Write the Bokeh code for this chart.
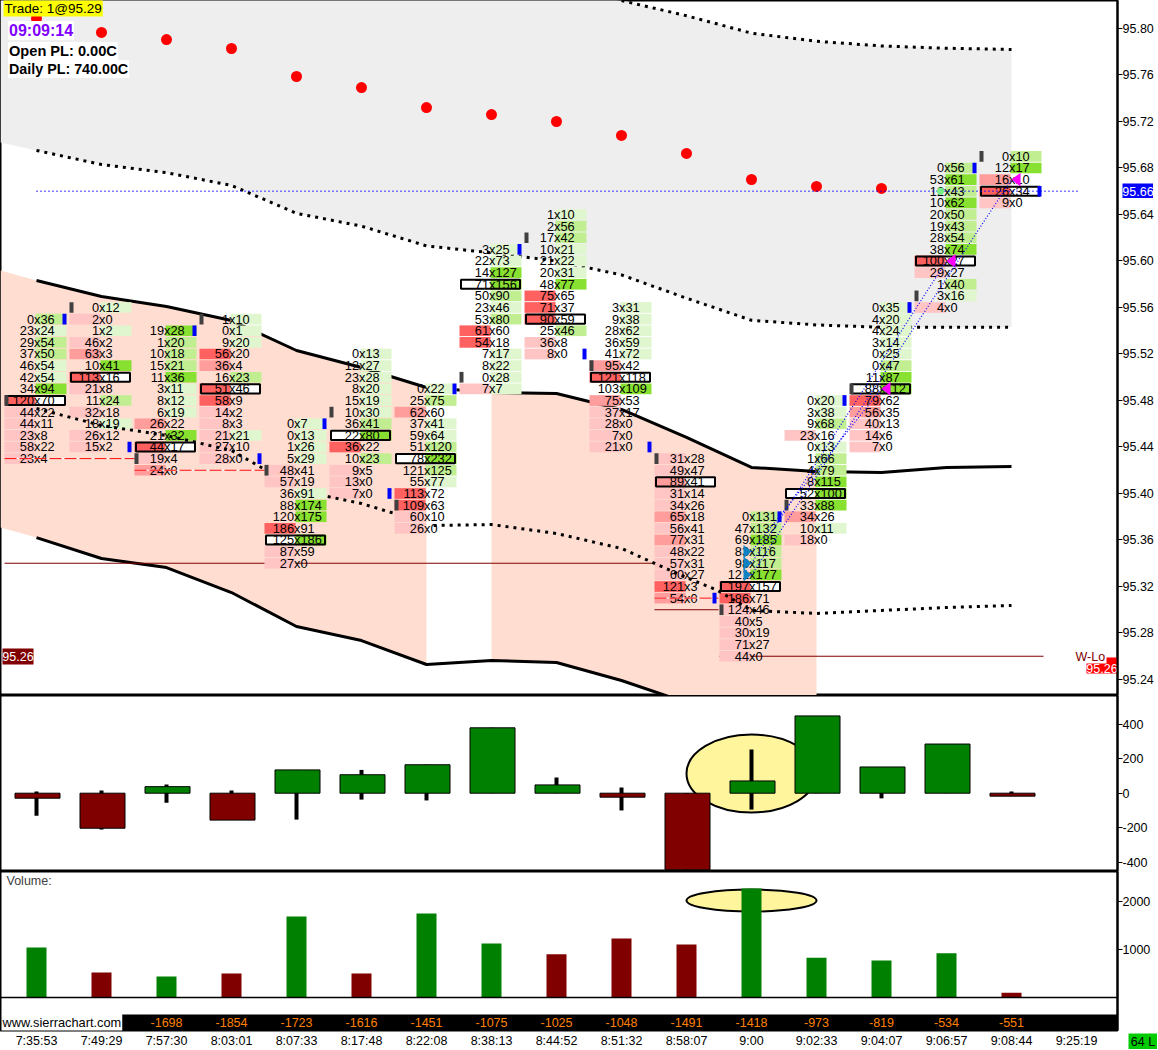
from bokeh.plotting import figure
from bokeh.layouts import column
from bokeh.models import Range1d, FixedTicker, NumeralTickFormatter, Label, Span
from bokeh.core.properties import value
from bokeh.embed import file_html
from bokeh.resources import INLINE

# ---------- data ----------
time_labels = ["7:35:53","7:49:29","7:57:30","8:03:01","8:07:33","8:17:48","8:22:08","8:38:13","8:44:52",
               "8:51:32","8:58:07","9:00","9:02:33","9:04:07","9:06:57","9:08:44","9:25:19"]
top_price = [95.55,95.56,95.54,95.55,95.46,95.52,95.49,95.61,95.64,95.56,95.43,95.38,95.48,95.56,95.68,95.69]
bid_values = [
 [0,23,29,37,46,42,34,120,44,44,23,58,23],
 [0,2,1,46,63,10,113,21,11,32,18,26,15],
 [19,1,10,15,11,3,8,6,26,21,44,19,24],
 [1,0,9,56,36,16,51,58,14,8,21,27,28],
 [0,0,1,5,48,57,36,88,120,186,125,87,27],
 [0,12,23,8,15,10,36,22,36,10,9,13,7],
 [0,25,62,37,59,51,78,121,55,113,109,60,26],
 [3,22,14,71,50,23,53,61,54,7,8,0,7],
 [1,2,17,10,21,20,48,75,71,90,25,36,8],
 [3,9,28,36,41,95,121,103,75,37,28,7,21],
 [31,49,89,31,34,65,56,77,48,57,60,121,54],
 [0,47,69,83,98,121,197,186,124,40,30,71,44],
 [0,3,9,23,0,1,4,8,52,33,34,10,18],
 [0,4,4,3,0,0,11,88,79,56,40,14,7],
 [0,53,12,10,20,19,28,38,100,29,1,3,4],
 [0,12,16,26,9],
]
ask_values = [
 [36,24,54,50,54,54,94,70,22,11,8,22,4],
 [12,0,2,2,3,41,16,8,24,18,19,12,2],
 [28,20,18,21,36,11,12,19,22,32,17,4,0],
 [10,1,20,20,4,23,46,9,2,3,21,10,0],
 [7,13,26,29,41,19,91,174,175,91,186,59,0],
 [13,27,28,20,19,30,41,80,22,23,5,0,0],
 [22,75,60,41,64,120,232,125,77,72,63,10,0],
 [25,73,127,156,90,46,80,60,18,17,22,28,7],
 [10,56,42,21,22,31,77,65,37,59,46,8,0],
 [31,38,62,59,72,42,118,109,53,17,0,0,0],
 [28,47,41,14,26,18,41,31,22,31,27,3,0],
 [131,132,185,116,117,177,157,71,46,5,19,27,0],
 [20,38,68,16,13,66,79,115,100,88,26,11,0],
 [35,20,24,14,25,47,87,112,62,35,13,6,0],
 [56,61,43,62,50,43,54,74,27,27,40,16,0],
 [10,17,10,34,0],
]
# shade per row: positive = ask cell coloured, negative = bid cell coloured, a tie colours both
shade_levels = [
 [2,1,2,2,1,1,3,-3,-1,-1,-1,-1,-1],
 [1,-1,1,-1,-2,3,-3,-1,2,-1,1,-1,-1],
 [3,2,2,2,3,1,1,1,-2,3,-3,-1,-2],
 [1,1,1,-3,-2,2,-3,-3,-1,-1,-1,-1,-1],
 [1,1,1,1,-1,-1,1,3,3,-3,3,-1,-1],
 [1,1,1,1,1,1,2,3,-3,2,-1,-1,-1],
 [1,2,-2,1,1,2,3,2,1,-3,-3,-1,-1],
 [1,1,3,3,2,1,2,-3,-3,1,1,1,-1],
 [1,2,2,1,1,1,3,-3,-3,-3,2,-1,-1],
 [1,1,1,1,1,-2,-3,3,-2,-1,-1,-1,-1],
 [-1,-1,-2,-1,-1,-2,-1,-2,-1,-1,-1,-3,-2],
 [2,2,3,2,2,3,-3,-3,-1,-1,-1,-1,-1],
 [1,1,2,-1,1,2,2,3,3,3,-2,1,-1],
 [1,1,1,1,1,2,3,3,-3,-2,-1,-1,-1],
 [2,3,2,3,2,2,2,3,-3,-1,2,1,-1],
 [2,3,-2,-3,-1],
]
poc_row = [7,6,10,6,10,7,6,3,9,6,2,6,8,7,8,3]
blue_mark_price = [95.55,95.44,95.54,95.43,95.46,95.40,95.49,95.61,95.52,95.44,95.31,95.38,95.48,95.56,95.68,95.66]
gray_mark_price = [95.48,95.56,95.43,95.55,95.42,95.47,95.39,95.50,95.62,95.51,95.43,95.30,95.39,95.49,95.57,95.69]

red_dot_price = [95.8086,95.7966,95.7905,95.7828,95.7587,95.7492,95.7320,95.7260,95.7200,95.7080,95.6925,95.6701,95.6641,95.6624]
band_top_price = [95.5832,95.5695,95.5609,95.5488,95.5230,95.5084,95.4912,95.4869,95.4860,95.4723,95.4482,95.4224,95.4189,95.4181,95.4224,95.4232]
band_low_price = [95.3621,95.3441,95.3363,95.3148,95.2856,95.2735,95.2529,95.2563,95.2546,95.2391,95.2202,95.2013,95.1961]
band_left_top, band_left_low = 95.5918, 95.3707
gray_low_price = [95.6951,95.683,95.676,95.665,95.641,95.630,95.613,95.607,95.600,95.588,95.568,95.549,95.545,95.543,95.543,95.543]
gray_left_low = 95.702
gray_high_price = [95.90,95.89,95.88,95.87,95.86,95.85,95.85,95.84,95.83,95.824,95.811,95.796,95.789,95.785,95.783,95.782]
mid_a_x, mid_a_price = [0,1,2,3,3.54], [95.4731,95.4585,95.4499,95.4370,95.4198]
mid_b_x, mid_b_price = [4.48,5,5.51], [95.3974,95.3914,95.3828]
mid_c_x = [6.11,7,8,9,10,10.48,11,12,13,14,15]
mid_c_price = [95.3725,95.3733,95.3656,95.3527,95.3277,95.3166,95.2994,95.2968,95.2994,95.3019,95.3037]
entry_price = [95.35,95.34,95.33]
exit_bar = [13,14,15]
exit_price = [95.49,95.60,95.67]

delta_close = [-29,-203,38,-156,135,107,165,379,48,-23,-444,71,448,152,285,-17]
delta_high = [10,15,50,15,135,135,165,379,91,33,0,253,448,152,285,10]
delta_low = [-130,-210,-55,-156,-153,-37,-42,0,0,-100,-444,-95,0,-30,0,-17]
volume = [1040,520,440,500,1690,500,1750,1125,900,1230,1105,2270,830,770,920,100]
volume_up = [1,0,1,0,1,0,1,1,0,0,0,1,1,1,1,0]
cum_delta = [-1698,-1854,-1723,-1616,-1451,-1075,-1025,-1048,-1491,-1418,-973,-819,-534,-551]

# ---------- layout helpers ----------
SANS = "Liberation Sans"
FONT = value(SANS)
CELL_SIZE = "12.8px"
AXIS_SIZE = "12.5px"
GREEN, RED = "#008000", "#800000"
ASK_COL = {1:"#E0F6CE",2:"#C2EE92",3:"#88E030"}
BID_COL = {1:"#FFC4C4",2:"#FF9C9C",3:"#FF6060"}
PX = 1/65
def xpx(px): return (px-36)/65
def pr(y): return 95.80-(y-28)*0.00086022
def dl(y): return (792.7-y)/0.1725
def vl(y): return (997-y)/0.048
XR = (xpx(0), xpx(1117))

def make_fig(h, yr, fticks, bottom=0):
    p = figure(width=1158, height=h, x_range=Range1d(*XR), y_range=Range1d(yr[1], yr[0]), y_axis_location="right",
               toolbar_location=None, output_backend="svg", min_border_left=0, min_border_top=0,
               min_border_right=41, min_border_bottom=bottom, background_fill_color="white",
               outline_line_color="black", outline_line_width=2)
    p.grid.visible = False
    a = p.yaxis[0]
    a.ticker = FixedTicker(ticks=fticks)
    a.axis_line_color = "black"; a.axis_line_width = 2
    a.major_tick_in = 0; a.major_tick_out = 5; a.major_tick_line_color = "black"
    a.minor_tick_line_color = None
    a.major_label_standoff = 0
    a.major_label_text_font = SANS; a.major_label_text_font_size = AXIS_SIZE
    a.major_label_text_color = "black"
    return p

def lab(p, x, y, text, color="black", bg=None, size=AXIS_SIZE, style="normal", pad=0):
    p.add_layout(Label(x=x, y=y, text=text, text_color=color, background_fill_color=bg, text_font=SANS,
                       text_font_size=size, text_font_style=style, text_baseline="middle", text_align="left",
                       padding=pad))

def boxed(p, x0, x1, y0, y1, text, color, bg):
    p.quad(left=[x0], right=[x1], top=[y0], bottom=[y1], fill_color=bg, line_color=None)
    p.text([(x0+x1)/2], [(y0+y1)/2], text=[text], text_align="center", text_baseline="middle", text_color=color,
           text_font=FONT, text_font_size=AXIS_SIZE)

def tag(left, top, w, h, text, color, bg):
    p = figure(width=w, height=h, x_range=Range1d(0, 1), y_range=Range1d(0, 1), toolbar_location=None,
               output_backend="svg", x_axis_location=None, y_axis_location=None, min_border=0,
               background_fill_color=bg, border_fill_color=bg, outline_line_color=None,
               styles={"position": "absolute", "left": f"{left}px", "top": f"{top}px"})
    p.grid.visible = False
    p.text([0.5], [0.5], text=[text], text_align="center", text_baseline="middle", text_color=color,
           text_font=FONT, text_font_size=AXIS_SIZE)
    return p

# ---------- price panel ----------
f1 = make_fig(695, (pr(0), pr(695)), [95.24+0.04*i for i in range(15)])
f1.xaxis.visible = False
f1.yaxis[0].formatter = NumeralTickFormatter(format="0.00")

idx = list(range(16))
f1.varea(x=[XR[0]]+idx, y1=[gray_left_low]+gray_low_price, y2=[95.95]+gray_high_price, fill_color="#EEEEEE")
f1.varea(x=[XR[0]]+idx[:7], y1=[band_left_low]+band_low_price[:7], y2=[band_left_top]+band_top_price[:7], fill_color="#FFDDD0")
f1.varea(x=idx[7:13], y1=band_low_price[7:13], y2=band_top_price[7:13], fill_color="#FFDDD0")
f1.line(idx, band_top_price, line_color="black", line_width=3)
f1.line(idx[:len(band_low_price)], band_low_price, line_color="black", line_width=3)
f1.line(idx, gray_low_price, line_color="black", line_width=3, line_dash="3 5")
f1.line(idx[9:], gray_high_price[9:], line_color="black", line_width=3, line_dash="3 5")

# thin level lines
f1.segment(x0=[xpx(4),xpx(654),xpx(719)], x1=[xpx(653),xpx(718),xpx(1043)], y0=[95.34,95.30,95.26], y1=[95.34,95.30,95.26],
           line_color="#800000", line_width=1)

# cells
poc_x, poc_y, rx, ry, rc = [], [], [], [], []
bt_x, bt_y, bt_s, at_s = [], [], [], []
for b in idx:
    for r, (bv, av, s) in enumerate(zip(bid_values[b], ask_values[b], shade_levels[b])):
        price = top_price[b]-0.01*r
        bt_x.append(b); bt_y.append(price); bt_s.append(str(bv)); at_s.append("x"+str(av))
        if r == poc_row[b]:
            poc_x.append(b-1*PX); poc_y.append(price)
        if s < 0 or bv == av:
            rx.append(b-16.5*PX); ry.append(price); rc.append(BID_COL[abs(s)])
        if s > 0 or bv == av:
            rx.append(b+14.5*PX); ry.append(price); rc.append(ASK_COL[abs(s)])
f1.rect(poc_x, poc_y, width=60*PX, height=0.0085, fill_color="white", line_color=None)
f1.rect(rx, ry, width=31*PX, height=0.0092, fill_color=rc, line_color=None)
f1.text(bt_x, bt_y, text=bt_s, text_align="right", text_baseline="middle", x_offset=-2.5, text_font=FONT,
        text_font_size=CELL_SIZE, text_color="black")
f1.text(bt_x, bt_y, text=at_s, text_align="left", text_baseline="middle", x_offset=-2.5, text_font=FONT,
        text_font_size=CELL_SIZE, text_color="black")
f1.rect(poc_x, poc_y, width=59*PX, height=0.0078, fill_color=None, line_color="black", line_width=2)

# red dashed levels, mid dotted line
for x0, x1, yy in [(xpx(4), xpx(134), 95.43), (xpx(134), xpx(264), 95.42), (xpx(654), xpx(718), 95.31)]:
    f1.line([x0, x1], [yy, yy], line_color="white", line_width=1)
    f1.line([x0, x1], [yy, yy], line_color="#FF0000", line_width=1, line_dash="12 3")
for mx, mp in [(mid_a_x, mid_a_price), (mid_b_x, mid_b_price), (mid_c_x, mid_c_price)]:
    f1.line(mx, mp, line_color="black", line_width=3, line_dash="3 5")

f1.scatter(idx[:14], red_dot_price, marker="circle", size=11, fill_color="#FF0000", line_color=None)

# volume-at-side markers
f1.rect([b+28*PX for b in idx], blue_mark_price, width=4*PX, height=0.0092, fill_color="#0000FF", line_color=None)
f1.rect([b-30*PX for b in idx], gray_mark_price, width=4*PX, height=0.0092, fill_color="#404040", line_color=None)

# trades
f1.line([xpx(36),xpx(1077)], [95.66,95.66], line_color="#0000FF", line_width=1.4, line_dash="1 3")
for ep, xb, xp in zip(entry_price, exit_bar, exit_price):
    f1.line([11, xb], [ep, xp], line_color="#0000FF", line_width=1.2, line_dash="1 2")
    f1.patch([11-8*PX, 11, 11-8*PX], [ep+0.0058, ep, ep-0.0058], fill_color="#0F82C3", line_color=None)
    f1.patch([xb+9*PX, xb, xb+9*PX], [xp+0.006, xp, xp-0.006], fill_color="#FF00FF", line_color=None)
f1.scatter([14-6*PX], [95.66], marker="hex", size=8, fill_color="#77EE88", line_color=None)

# overlays
lab(f1, xpx(3), pr(7.5), "Trade: 1@95.29", bg="#FFFF00", size="13.5px", pad=1)
lab(f1, xpx(7.5), pr(30), "09:09:14", color="#7F00FF", bg="white", size="16px", style="bold", pad=1)
lab(f1, xpx(7.5), pr(50.5), "Open PL: 0.00C", bg="white", size="14.6px", style="bold", pad=1)
lab(f1, xpx(7.5), pr(68.5), "Daily PL: 740.00C", bg="white", size="14.3px", style="bold", pad=1)
boxed(f1, xpx(2), xpx(33), pr(648), pr(664), "95.26", "white", "#800000")
f1.quad(left=[xpx(1106)], right=[xpx(1117)], top=[pr(657)], bottom=[pr(664)], fill_color="#FF0000", line_color=None)
boxed(f1, xpx(1086), xpx(1117), pr(663), pr(673), "95.26", "white", "#FF0000")
lab(f1, xpx(1075), pr(656), "W-Lo", color="#800000")

# ---------- delta panel ----------
f2 = make_fig(176, (dl(695), dl(871)), [-400,-200,0,200,400])
f2.xaxis.visible = False
f2.yaxis[0].major_label_overrides = {v: str(v) for v in [-400,-200,0,200,400]}
f2.ellipse([11], [114], width=[130*PX], height=[452], fill_color="#FFF59D", line_color="black", line_width=2)
f2.segment(x0=idx, x1=idx, y0=delta_low, y1=delta_high, line_color="black", line_width=4)
f2.vbar([b+1*PX for b in idx], width=45*PX, bottom=[0]*16, top=delta_close,
        fill_color=[GREEN if c >= 0 else RED for c in delta_close], line_color="black", line_width=1)

# ---------- volume panel ----------
f3 = make_fig(179, (vl(871), vl(1030)), [1000,2000], bottom=20)
f3.yaxis[0].major_label_overrides = {1000:"1000", 2000:"2000"}
f3.ellipse([11], [2020], width=[130*PX], height=[458], fill_color="#FFF59D", line_color="black", line_width=2)
f3.vbar(idx, width=20*PX, bottom=[0]*16, top=volume, fill_color=[GREEN if u else RED for u in volume_up], line_color=None)
f3.add_layout(Span(location=0, dimension="width", line_color="black", line_width=1.5))
f3.quad(left=[XR[0]], right=[XR[1]], bottom=[vl(1030)], top=[vl(1014)], fill_color="black", line_color=None)
f3.text(idx[2:], [vl(1022)]*14, text=[str(v) for v in cum_delta], text_align="center", text_baseline="middle",
        text_font=FONT, text_font_size=AXIS_SIZE, text_color="#FF8000")
lab(f3, xpx(1), vl(1022), "www.sierrachart.com", bg="white", size="12.8px", pad=1)
lab(f3, xpx(6), vl(880), "Volume:", color="#404040")
ax = f3.xaxis[0]
ax.ticker = FixedTicker(ticks=list(range(17)))
ax.major_label_overrides = {i: t for i, t in enumerate(time_labels)}
ax.axis_line_color = None; ax.major_tick_line_color = None; ax.minor_tick_line_color = None
ax.major_tick_out = 0; ax.major_tick_in = 0; ax.major_label_standoff = 3
ax.major_label_text_font = SANS; ax.major_label_text_font_size = AXIS_SIZE; ax.major_label_text_color = "black"

page = column(f1, f2, f3, spacing=0, styles={"position": "absolute", "left": "0", "top": "0"})
tags = [tag(1122, 183, 31, 15, "95.66", "white", "#0000FF"), tag(1128, 1033, 29, 16, "64 L", "black", "#00CC00")]
open("out.html", "w").write(file_html([page]+tags, INLINE))
